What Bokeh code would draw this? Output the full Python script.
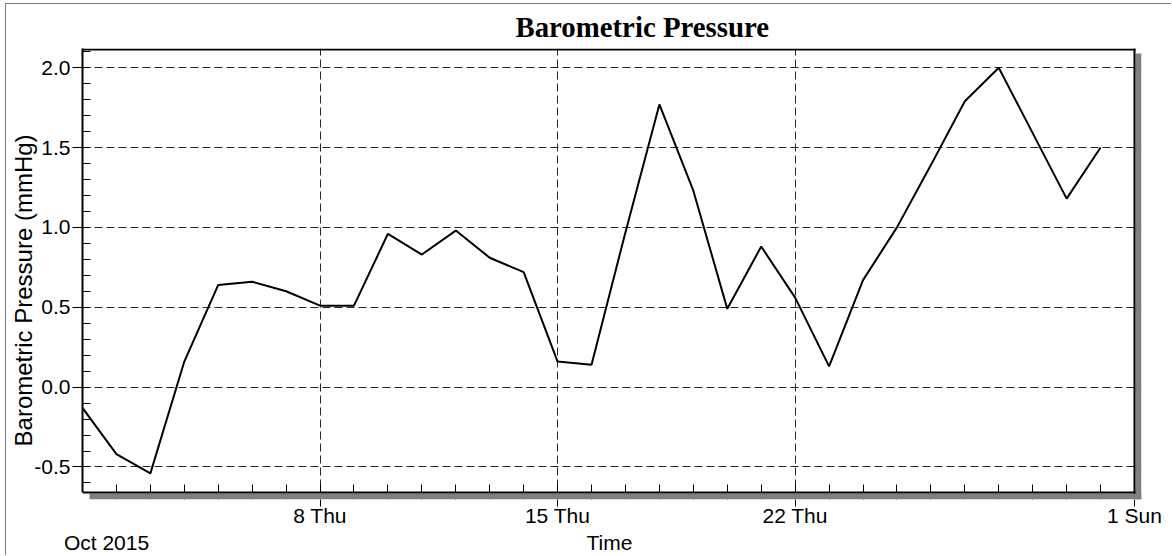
import pandas as pd
from bokeh.plotting import figure
from bokeh.models import (Range1d, FixedTicker, SingleIntervalTicker, PrintfTickFormatter,
                          CustomJSTickFormatter, BoxAnnotation, LinearAxis)
from bokeh.embed import file_html
from bokeh.resources import INLINE

# ---------------- data ----------------
dates = ["2015-10-01", "2015-10-02", "2015-10-03", "2015-10-04", "2015-10-05", "2015-10-06",
         "2015-10-07", "2015-10-08", "2015-10-09", "2015-10-10", "2015-10-11", "2015-10-12",
         "2015-10-13", "2015-10-14", "2015-10-15", "2015-10-16", "2015-10-17", "2015-10-18",
         "2015-10-19", "2015-10-20", "2015-10-21", "2015-10-22", "2015-10-23", "2015-10-24",
         "2015-10-25", "2015-10-26", "2015-10-27", "2015-10-28", "2015-10-29", "2015-10-30",
         "2015-10-31"]
pressure = [-0.13, -0.42, -0.54, 0.16, 0.64, 0.66, 0.60, 0.51, 0.51, 0.96, 0.83, 0.98,
            0.81, 0.72, 0.16, 0.14, 0.97, 1.77, 1.23, 0.49, 0.88, 0.56, 0.13, 0.67,
            1.00, 1.39, 1.79, 2.00, 1.59, 1.18, 1.50]
x_start = "2015-10-01"
x_end = "2015-11-01"
major_tick_dates = ["2015-10-08", "2015-10-15", "2015-10-22", "2015-11-01"]
major_tick_labels = ["8 Thu", "15 Thu", "22 Thu", "1 Sun"]
minor_tick_dates = dates[1:]
y_min, y_max = -0.66, 2.12
title_text = "Barometric Pressure"
y_label = "Barometric Pressure (mmHg)"
x_label = "Time"
period_label = "Oct 2015"

# ---------------- layout constants (pixels) ----------------
PLOT_W, PLOT_H = 1052, 446          # visible plot box
SHADOW = 7                          # drop-shadow offset
FONT = "Liberation Sans"


def ms(seq):
    return [float(v) for v in (pd.to_datetime(seq).astype("int64") // 10**6)]


major_ms = ms(major_tick_dates)
minor_ms = ms(minor_tick_dates)
x0, x1 = ms([x_start, x_end])
mpx = (x1 - x0) / PLOT_W            # ms per pixel
ypx = (y_max - y_min) / PLOT_H      # y units per pixel

p = figure(width=1166, height=552, x_axis_type="datetime",
           x_range=Range1d(x0, x1 + SHADOW * mpx),
           y_range=Range1d(y_min - SHADOW * ypx, y_max),
           output_backend="svg", toolbar_location=None,
           min_border_left=76, min_border_right=31, min_border_top=43, min_border_bottom=56)
p.styles = {"margin-left": "6px", "margin-top": "4px",
            "box-shadow": "-1px -1px 0 0 #7a7a7a"}

p.background_fill_color = "white"
p.border_fill_color = "white"
p.outline_line_color = None

# title
p.title.text = title_text
p.title.text_font = "Liberation Serif"
p.title.text_font_style = "bold"
p.title.text_font_size = "28.8px"
p.title.text_color = "black"
p.title.align = "left"
p.title.vertical_align = "middle"
p.title.offset = 433
p.title.standoff = 10

# data line
p.line(x=pd.to_datetime(dates), y=pressure, line_color="black", line_width=2)

# ---- x axis (dates) ----
xaxis = p.xaxis[0]
xaxis.ticker = FixedTicker(ticks=major_ms, minor_ticks=minor_ms)
xaxis.formatter = CustomJSTickFormatter(args=dict(tvals=major_ms, tlabels=major_tick_labels), code="""
const i = tvals.indexOf(tick);
if (i >= 0) return tlabels[i];
const d = new Date(tick);
const n = ['Sun','Mon','Tue','Wed','Thu','Fri','Sat'];
return d.getUTCDate() + ' ' + n[d.getUTCDay()];
""")
xaxis.bounds = (x0, x1)
xaxis.axis_line_color = None
xaxis.major_tick_in = 0
xaxis.major_tick_out = 7
xaxis.minor_tick_in = 15
xaxis.minor_tick_out = 0
xaxis.major_label_standoff = -3

# second line under the dates: period and axis title
x_text_pos = [x0 + (106 - 82) * mpx, x0 + (609 - 82) * mpx]
x_text = [period_label, x_label]
xaxis2 = LinearAxis(ticker=FixedTicker(ticks=x_text_pos, minor_ticks=[]),
                    formatter=CustomJSTickFormatter(args=dict(tvals=x_text_pos, tlabels=x_text),
                                                    code="const i = tvals.indexOf(tick); return i >= 0 ? tlabels[i] : '';"))
p.add_layout(xaxis2, "below")

# ---- y axis ----
yaxis = p.yaxis[0]
yticker = SingleIntervalTicker(interval=0.5, num_minor_ticks=5)
yaxis.ticker = yticker
yaxis.formatter = PrintfTickFormatter(format="%.1f")
yaxis.bounds = (y_min, y_max)
yaxis.axis_line_color = "black"
yaxis.axis_line_width = 2
yaxis.major_tick_in = 0
yaxis.major_tick_out = 10
yaxis.minor_tick_in = 8
yaxis.minor_tick_out = 0
yaxis.major_label_standoff = 2

# y axis title (placed beside the axis)
y_text_pos = [y_max - (290 - 47) * ypx]
yaxis2 = LinearAxis(ticker=FixedTicker(ticks=y_text_pos, minor_ticks=[]),
                    formatter=CustomJSTickFormatter(args=dict(tvals=y_text_pos, tlabels=[y_label]),
                                                    code="const i = tvals.indexOf(tick); return i >= 0 ? tlabels[i] : '';"))
yaxis2.major_label_orientation = "vertical"
p.add_layout(yaxis2, "left")

for ax in (xaxis, yaxis):
    ax.major_tick_line_color = "black"
    ax.major_tick_line_width = 1
    ax.minor_tick_line_color = "black"
    ax.minor_tick_line_width = 1
    ax.major_label_text_font = FONT
    ax.major_label_text_font_size = "21px"
    ax.major_label_text_color = "black"

for ax in (xaxis2, yaxis2):
    ax.axis_line_color = None
    ax.major_tick_line_color = None
    ax.minor_tick_line_color = None
    ax.major_tick_in = 0
    ax.major_tick_out = 0
    ax.minor_tick_in = 0
    ax.minor_tick_out = 0
    ax.major_label_text_font = FONT
    ax.major_label_text_color = "black"
xaxis2.major_label_standoff = 1
xaxis2.major_label_text_font_size = "21px"
yaxis2.major_label_standoff = -6
yaxis2.major_label_text_font_size = "24px"

# grids
p.xgrid.ticker = FixedTicker(ticks=major_ms, minor_ticks=[])
p.ygrid.ticker = yticker
for g in (p.xgrid, p.ygrid):
    g.grid_line_color = "black"
    g.grid_line_width = 1
    g.grid_line_dash = "8 4"
    g.grid_line_alpha = 0.85

# ---- frame decoration: blank margin strips, drop shadow, black box ----
xr_end = x1 + SHADOW * mpx
yr_start = y_min - SHADOW * ypx


def box(l, r, t, b, color):
    p.add_layout(BoxAnnotation(left=l, right=r, top=t, bottom=b, fill_color=color,
                               fill_alpha=1.0, line_color=None, level="annotation"))


box(x1, xr_end, y_max, yr_start, "white")
box(x0, xr_end, y_min, yr_start, "white")
box(x1 + 1 * mpx, xr_end, y_max - 5 * ypx, yr_start, "#808080")
box(x0 + SHADOW * mpx, xr_end, y_min - 1 * ypx, yr_start, "#808080")
box(x0, x1 + 1 * mpx, y_max, y_max - 2 * ypx, "black")
box(x1 - 1 * mpx, x1 + 1 * mpx, y_max, y_min - 1 * ypx, "black")
box(x0, x1 + 1 * mpx, y_min + 1 * ypx, y_min - 1 * ypx, "black")

open("out.html", "w").write(file_html(p, INLINE))
